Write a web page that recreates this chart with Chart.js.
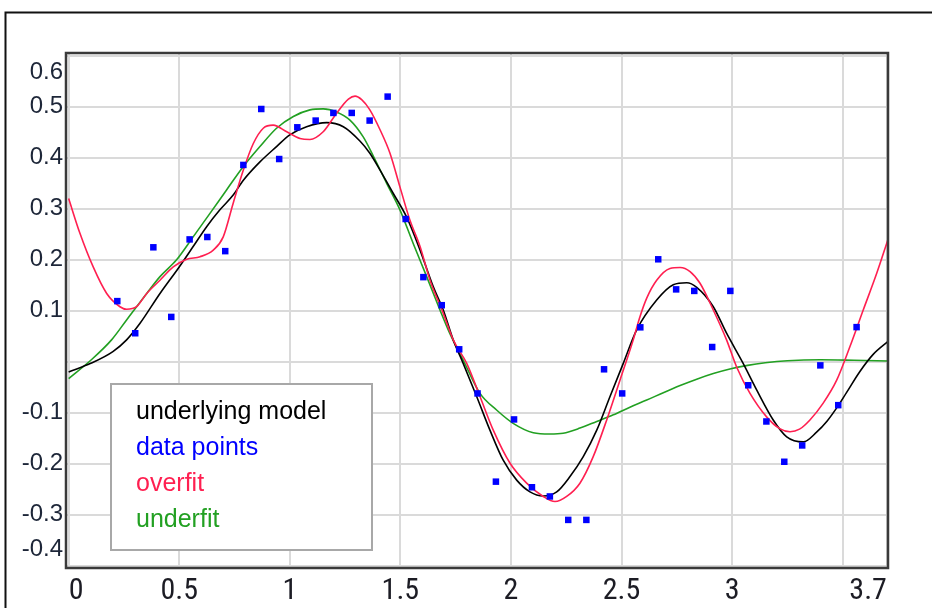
<!DOCTYPE html>
<html>
<head>
<meta charset="utf-8">
<script src="https://cdn.jsdelivr.net/npm/chart.js@4.4.1/dist/chart.umd.min.js"></script>
<style>
  html, body { margin: 0; padding: 0; background: #ffffff; }
  #wrap { position: relative; width: 932px; height: 608px; overflow: hidden; }
  canvas { display: block; }
</style>
</head>
<body>
<div id="wrap"><canvas id="chart" width="932" height="608"></canvas></div>
<script>
// ---------- data ----------
const xTicks = [0, 0.5, 1, 1.5, 2, 2.5, 3, 3.5, 3.7];
const xTickLabels = ['0', '0.5', '1', '1.5', '2', '2.5', '3', '', '3.7'];
const yTicks = [-0.4, -0.3, -0.2, -0.1, 0, 0.1, 0.2, 0.3, 0.4, 0.5, 0.6];
const yTickLabels = ['-0.4', '-0.3', '-0.2', '-0.1', '', '0.1', '0.2', '0.3', '0.4', '0.5', '0.6'];

const seriesNames = ['underlying model', 'data points', 'overfit', 'underfit'];

const modelX = [0, 0.1, 0.2, 0.262, 0.322, 0.413, 0.5, 0.563, 0.624, 0.684, 0.744, 0.79, 0.865, 0.94, 1.0, 1.076, 1.167, 1.242, 1.317, 1.362, 1.408, 1.468, 1.528, 1.589, 1.649, 1.694, 1.739, 1.784, 1.845, 1.905, 1.965, 2.026, 2.086, 2.146, 2.207, 2.267, 2.327, 2.388, 2.448, 2.508, 2.568, 2.659, 2.734, 2.795, 2.84, 2.915, 2.975, 3.05, 3.111, 3.186, 3.247, 3.322, 3.382, 3.43, 3.48, 3.518, 3.578, 3.639, 3.705];
const modelY = [-0.02, -0.003, 0.02, 0.043, 0.075, 0.134, 0.186, 0.226, 0.265, 0.298, 0.327, 0.356, 0.392, 0.422, 0.445, 0.461, 0.469, 0.461, 0.433, 0.409, 0.376, 0.33, 0.284, 0.219, 0.147, 0.1016, 0.043, -0.003, -0.068, -0.134, -0.193, -0.232, -0.255, -0.263, -0.255, -0.225, -0.186, -0.134, -0.068, -0.003, 0.062, 0.121, 0.151, 0.155, 0.146, 0.108, 0.056, -0.003, -0.055, -0.114, -0.147, -0.157, -0.138, -0.116, -0.086, -0.06, -0.019, 0.015, 0.04];

const pointsX = [0.22, 0.301, 0.383, 0.464, 0.547, 0.627, 0.708, 0.79, 0.871, 0.952, 1.034, 1.117, 1.197, 1.28, 1.361, 1.4425, 1.524, 1.604, 1.687, 1.766, 1.849, 1.932, 2.014, 2.095, 2.176, 2.259, 2.341, 2.421, 2.503, 2.585, 2.666, 2.747, 2.829, 2.91, 2.992, 3.073, 3.155, 3.236, 3.317, 3.399, 3.48, 3.563];
const pointsY = [0.119, 0.056, 0.2245, 0.088, 0.24, 0.2447, 0.217, 0.386, 0.4957, 0.3976, 0.4598, 0.473, 0.488, 0.488, 0.473, 0.52, 0.28, 0.166, 0.111, 0.0245, -0.062, -0.235, -0.113, -0.246, -0.264, -0.31, -0.31, -0.0147, -0.062, 0.0676, 0.201, 0.142, 0.139, 0.029, 0.139, -0.046, -0.117, -0.196, -0.164, -0.007, -0.085, 0.068];

const overfitX = [0, 0.051, 0.111, 0.172, 0.232, 0.262, 0.307, 0.353, 0.413, 0.473, 0.534, 0.594, 0.654, 0.699, 0.744, 0.79, 0.835, 0.88, 0.925, 0.986, 1.046, 1.091, 1.151, 1.211, 1.265, 1.295, 1.325, 1.362, 1.408, 1.453, 1.498, 1.543, 1.589, 1.634, 1.694, 1.739, 1.8, 1.86, 1.92, 1.996, 2.071, 2.146, 2.199, 2.252, 2.312, 2.372, 2.433, 2.493, 2.553, 2.583, 2.614, 2.659, 2.719, 2.765, 2.81, 2.855, 2.915, 2.975, 3.02, 3.081, 3.156, 3.215, 3.262, 3.305, 3.352, 3.412, 3.473, 3.533, 3.593, 3.654, 3.705];
const overfitY = [0.32, 0.252, 0.186, 0.134, 0.108, 0.103, 0.108, 0.134, 0.16, 0.186, 0.201, 0.206, 0.219, 0.245, 0.311, 0.376, 0.428, 0.458, 0.464, 0.451, 0.438, 0.436, 0.451, 0.487, 0.515, 0.521, 0.514, 0.494, 0.455, 0.409, 0.343, 0.278, 0.226, 0.16, 0.095, 0.043, -0.003, -0.068, -0.134, -0.199, -0.238, -0.264, -0.274, -0.264, -0.238, -0.186, -0.114, -0.036, 0.043, 0.088, 0.125, 0.16, 0.183, 0.185, 0.177, 0.154, 0.1016, 0.043, -0.0096, -0.062, -0.108, -0.131, -0.137, -0.132, -0.114, -0.081, -0.036, 0.03, 0.1016, 0.1735, 0.24];

const underfitX = [0, 0.1, 0.194, 0.262, 0.353, 0.413, 0.488, 0.563, 0.639, 0.714, 0.79, 0.865, 0.94, 1.016, 1.091, 1.151, 1.211, 1.272, 1.332, 1.377, 1.438, 1.498, 1.558, 1.619, 1.679, 1.724, 1.784, 1.86, 1.935, 2.01, 2.101, 2.176, 2.236, 2.312, 2.388, 2.463, 2.538, 2.614, 2.689, 2.765, 2.84, 2.915, 2.99, 3.07, 3.15, 3.25, 3.4, 3.55, 3.705];
const underfitY = [-0.033, 0.003, 0.043, 0.082, 0.134, 0.167, 0.2, 0.245, 0.291, 0.337, 0.383, 0.422, 0.458, 0.481, 0.494, 0.496, 0.49, 0.474, 0.441, 0.404, 0.35, 0.298, 0.232, 0.167, 0.1016, 0.055, 0.0035, -0.062, -0.0945, -0.1206, -0.139, -0.1416, -0.14, -0.13, -0.117, -0.104, -0.089, -0.075, -0.0605, -0.0465, -0.034, -0.023, -0.014, -0.007, -0.002, 0.002, 0.004, 0.003, 0.0015];

// ---------- helpers ----------
const zip = (xs, ys) => xs.map((x, i) => ({ x: x, y: ys[i] }));

const COLORS = {
  model: '#000000',
  points: '#0000ff',
  overfit: '#ff1f50',
  underfit: '#22a022'
};

const frameAndLegend = {
  id: 'frameAndLegend',
  beforeDraw(chart) {
    const ctx = chart.ctx;
    ctx.save();
    ctx.fillStyle = '#ffffff';
    ctx.fillRect(0, 0, chart.width, chart.height);
    // outer window frame (top and left edges)
    ctx.strokeStyle = '#111111';
    ctx.lineWidth = 2;
    ctx.beginPath();
    ctx.moveTo(5.5, chart.height + 2);
    ctx.lineTo(5.5, 12.5);
    ctx.lineTo(chart.width + 2, 12.5);
    ctx.stroke();
    ctx.restore();
  },
  afterDatasetsDraw(chart) {
    const ctx = chart.ctx;
    const a = chart.chartArea;
    ctx.save();
    // plot border
    ctx.strokeStyle = '#3a3a3a';
    ctx.lineWidth = 2.5;
    ctx.strokeRect(a.left, a.top, a.right - a.left, a.bottom - a.top);

    // legend box inside the plot area (bottom-left)
    const boxW = 261, boxH = 166;
    const bx = a.left + 45, by = a.bottom - 18 - boxH;
    ctx.fillStyle = '#ffffff';
    ctx.fillRect(bx, by, boxW, boxH);
    ctx.strokeStyle = '#a8a8a8';
    ctx.lineWidth = 2;
    ctx.strokeRect(bx, by, boxW, boxH);
    ctx.font = '25px "Liberation Sans", Arial, sans-serif';
    ctx.textBaseline = 'middle';
    ctx.textAlign = 'left';
    chart.data.datasets.forEach((ds, i) => {
      ctx.fillStyle = ds.legendColor;
      ctx.fillText(ds.label, bx + 25, by + 28 + i * 36);
    });
    ctx.restore();
  }
};

const ctx = document.getElementById('chart').getContext('2d');
new Chart(ctx, {
  type: 'line',
  data: {
    datasets: [
      {
        label: seriesNames[0],
        data: zip(modelX, modelY),
        borderColor: COLORS.model,
        legendColor: '#000000',
        borderWidth: 1.6,
        pointRadius: 0,
        cubicInterpolationMode: 'monotone',
        fill: false,
        order: 2
      },
      {
        label: seriesNames[1],
        data: zip(pointsX, pointsY),
        showLine: false,
        legendColor: COLORS.points,
        pointStyle: 'rect',
        pointRadius: 4.6,
        pointBorderWidth: 0,
        pointBackgroundColor: COLORS.points,
        borderColor: COLORS.points,
        order: 0
      },
      {
        label: seriesNames[2],
        data: zip(overfitX, overfitY),
        borderColor: COLORS.overfit,
        legendColor: COLORS.overfit,
        borderWidth: 1.6,
        pointRadius: 0,
        cubicInterpolationMode: 'monotone',
        fill: false,
        order: 1
      },
      {
        label: seriesNames[3],
        data: zip(underfitX, underfitY),
        borderColor: COLORS.underfit,
        legendColor: COLORS.underfit,
        borderWidth: 1.6,
        pointRadius: 0,
        cubicInterpolationMode: 'monotone',
        fill: false,
        order: 3
      }
    ]
  },
  options: {
    responsive: false,
    animation: false,
    devicePixelRatio: 1,
    layout: { padding: { left: 0, top: 53, right: 44, bottom: 0 } },
    plugins: {
      legend: { display: false },
      tooltip: { enabled: false },
      title: { display: false }
    },
    scales: {
      x: {
        type: 'linear',
        position: 'bottom',
        min: -0.012,
        max: 3.705,
        afterBuildTicks: (s) => { s.ticks = xTicks.map(v => ({ value: v })); },
        afterFit: (s) => { s.height = 40; },
        border: { display: false },
        grid: { color: '#dadada', lineWidth: 2, drawTicks: false },
        ticks: {
          autoSkip: false,
          maxRotation: 0,
          minRotation: 0,
          align: 'inner',
          padding: 5,
          color: '#1c1c24',
          font: { family: '"Roboto Condensed", "DejaVu Sans Condensed", sans-serif', size: 30, lineHeight: 1.2 },
          callback: (v, i) => xTickLabels[i]
        }
      },
      y: {
        type: 'linear',
        min: -0.4043,
        max: 0.6055,
        afterBuildTicks: (s) => { s.ticks = yTicks.map(v => ({ value: v })); },
        afterFit: (s) => { s.width = 66; },
        border: { display: false },
        grid: { color: '#dadada', lineWidth: 2, drawTicks: false },
        ticks: {
          autoSkip: false,
          padding: 3,
          color: '#1d2638',
          font: { family: '"Liberation Sans", Arial, sans-serif', size: 24, lineHeight: 1.375 },
          callback: (v, i, arr) => {
            const lab = yTickLabels[i];
            if (i === 0) return [lab, ''];
            if (i === arr.length - 1) return ['', lab];
            return lab;
          }
        }
      }
    }
  },
  plugins: [frameAndLegend]
});
</script>
</body>
</html>
